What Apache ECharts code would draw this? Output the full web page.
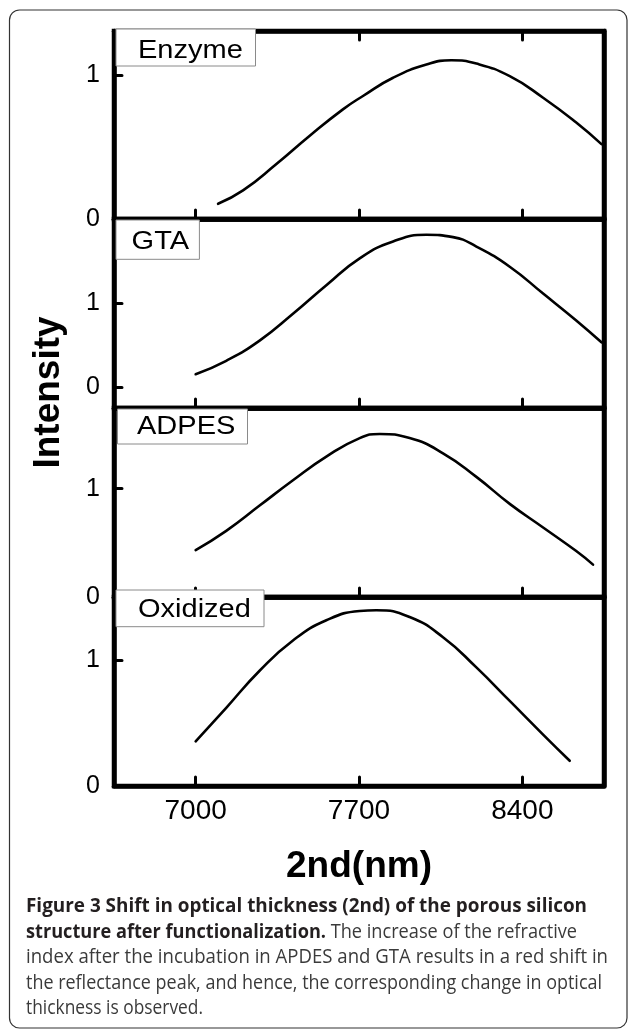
<html>
    <head>
        <meta charset="utf-8">
        <script src="https://cdn.jsdelivr.net/npm/echarts@6.0.0/dist/echarts.min.js"></script>
    </head>
    <body>
        <style>
            html, body, #main {
                width: 100%;
                height: 100%;
                margin: 0;
                background: #fff;
            }
        </style>
        <div id="main"></div>
        <script>

            // panel names, top to bottom
            var panelNames = ['Enzyme', 'GTA', 'ADPES', 'Oxidized'];

            // 2nd (nm) / intensity
            var enzymeX = [7096, 7203, 7346, 7489, 7631, 7717, 7846, 7989, 8096, 8203, 8346, 8489, 8631, 8739];
            var enzymeY = [0.106, 0.199, 0.383, 0.580, 0.764, 0.857, 0.984, 1.076, 1.106, 1.083, 0.995, 0.845, 0.672, 0.522];

            var gtaX = [7000, 7131, 7274, 7417, 7560, 7703, 7846, 7989, 8103, 8203, 8346, 8489, 8631, 8739];
            var gtaY = [0.152, 0.312, 0.552, 0.872, 1.212, 1.532, 1.732, 1.812, 1.784, 1.672, 1.432, 1.112, 0.792, 0.532];

            var adpesX = [7000, 7131, 7274, 7417, 7560, 7703, 7789, 7917, 8060, 8203, 8346, 8489, 8631, 8703];
            var adpesY = [0.433, 0.611, 0.844, 1.078, 1.296, 1.467, 1.505, 1.467, 1.327, 1.109, 0.860, 0.642, 0.424, 0.299];

            var oxidizedX = [7000, 7131, 7274, 7417, 7560, 7703, 7774, 7917, 8060, 8203, 8346, 8489, 8603];
            var oxidizedY = [0.355, 0.621, 0.915, 1.155, 1.315, 1.389, 1.395, 1.341, 1.181, 0.941, 0.675, 0.408, 0.200];

            var xTicks = [7000, 7700, 8400];
            var yTicks = [0, 1];
            var yRanges = [[0, 1.31], [-0.25, 2.0], [0, 1.745], [0, 1.5]];

            var xName = '2nd(nm)';
            var yName = 'Intensity';
            var captionLines = [
                [['b', 'Figure 3 Shift in optical thickness (2nd) of the porous silicon']],
                [['b', 'structure after functionalization.'], ['r', ' The increase of the refractive']],
                [['r', 'index after the incubation in APDES and GTA results in a red shift in']],
                [['r', 'the reflectance peak, and hence, the corresponding change in optical']],
                [['r', 'thickness is observed.']]
            ];

            var seriesX = [enzymeX, gtaX, adpesX, oxidizedX];
            var seriesY = [enzymeY, gtaY, adpesY, oxidizedY];

            // layout (px)
            var panelTops = [31, 219, 408, 597, 786];
            var plotLeft = 114, plotRight = 25;
            var labelBoxes = [
                {x: 116, y: 29, w: 139.5, h: 37, tx: 138, ty: 51.5},
                {x: 116, y: 220, w: 83.4, h: 39.3, tx: 131.6, ty: 242.5},
                {x: 117.5, y: 409, w: 130, h: 35, tx: 137, ty: 427},
                {x: 116, y: 590, w: 148, h: 36.7, tx: 138, ty: 610}
            ];
            var captionLeft = 26;
            var captionRight = [587, 577, 608, 602, 203];
            var captionBase = [913, 938.5, 964, 989.5, 1015];
            var axisFont = '"Liberation Sans", Arial, sans-serif';
            var capFont = '"Open Sans", sans-serif';
            var capSize = 19.5;

            var chart = echarts.init(document.getElementById('main'));

            function pairs(xs, ys) {
                var out = [];
                for (var i = 0; i < xs.length; i++) {
                    out.push([xs[i], ys[i]]);
                }
                return out;
            }

            var frameLine = {show: true, onZero: false, lineStyle: {color: '#000', width: 4.5}};
            var tickStyle = {color: '#000', width: 3, cap: 'round'};

            var grids = [], xAxes = [], yAxes = [], series = [];
            for (var i = 0; i < 4; i++) {
                grids.push({
                    left: plotLeft,
                    right: plotRight,
                    top: panelTops[i],
                    height: panelTops[i + 1] - panelTops[i],
                    show: true,
                    borderColor: '#000',
                    borderWidth: 4.5,
                    backgroundColor: 'transparent'
                });
                var last = i === 3;
                // bottom
                xAxes.push({
                    type: 'value',
                    gridIndex: i,
                    position: 'bottom',
                    min: 6650,
                    max: 8750,
                    axisLine: frameLine,
                    splitLine: {show: false},
                    axisTick: {
                        show: true,
                        inside: true,
                        length: 9,
                        customValues: xTicks,
                        lineStyle: tickStyle
                    },
                    axisLabel: {
                        show: last,
                        customValues: xTicks,
                        formatter: function (v) { return String(v); },
                        margin: 11,
                        fontSize: 28,
                        fontFamily: axisFont,
                        color: '#000'
                    },
                    name: last ? xName : '',
                    nameLocation: 'middle',
                    nameGap: 62,
                    nameTextStyle: {
                        fontSize: 37,
                        fontWeight: 'bold',
                        fontFamily: axisFont,
                        color: '#000'
                    }
                });
                // top, ticks only on the first panel
                xAxes.push({
                    type: 'value',
                    gridIndex: i,
                    position: 'top',
                    min: 6650,
                    max: 8750,
                    axisLine: frameLine,
                    splitLine: {show: false},
                    axisLabel: {show: false},
                    axisTick: {
                        show: i === 0,
                        inside: true,
                        length: 9,
                        customValues: xTicks,
                        lineStyle: tickStyle
                    }
                });
                yAxes.push({
                    type: 'value',
                    gridIndex: i,
                    position: 'left',
                    min: yRanges[i][0],
                    max: yRanges[i][1],
                    axisLine: frameLine,
                    splitLine: {show: false},
                    axisTick: {
                        show: true,
                        inside: true,
                        length: 8,
                        customValues: yTicks,
                        lineStyle: tickStyle
                    },
                    axisLabel: {
                        customValues: yTicks,
                        margin: 14,
                        fontSize: 25,
                        fontFamily: axisFont,
                        color: '#000'
                    }
                });
                yAxes.push({
                    type: 'value',
                    gridIndex: i,
                    position: 'right',
                    min: yRanges[i][0],
                    max: yRanges[i][1],
                    axisLine: frameLine,
                    splitLine: {show: false},
                    axisTick: {show: false},
                    axisLabel: {show: false}
                });
                series.push({
                    name: panelNames[i],
                    type: 'line',
                    xAxisIndex: i * 2,
                    yAxisIndex: i * 2,
                    smooth: 0.5,
                    showSymbol: false,
                    silent: true,
                    lineStyle: {color: '#000', width: 2.6, cap: 'round'},
                    data: pairs(seriesX[i], seriesY[i])
                });
            }

            // caption: one text per line, squeezed to the reference width
            var ctx = document.createElement('canvas').getContext('2d');
            function lineWidth(line) {
                var w = 0;
                line.forEach(function (p) {
                    ctx.font = (p[0] === 'b' ? 'bold ' : '') + capSize + 'px ' + capFont;
                    w += ctx.measureText(p[1]).width;
                });
                return w;
            }

            var graphics = [{
                type: 'rect',
                z: 0,
                shape: {x: 9.5, y: 10, width: 617.5, height: 1018, r: 10},
                style: {fill: 'none', stroke: '#333', lineWidth: 1.2}
            }, {
                type: 'text',
                x: 49,
                y: 392.5,
                rotation: Math.PI / 2,
                z: 50,
                style: {
                    text: yName,
                    font: 'bold 37px ' + axisFont,
                    fill: '#000',
                    align: 'center',
                    verticalAlign: 'middle'
                }
            }];

            labelBoxes.forEach(function (b, k) {
                graphics.push({
                    type: 'rect',
                    z: 100,
                    shape: {x: b.x, y: b.y, width: b.w, height: b.h},
                    style: {fill: '#fff', stroke: '#8a8a8a', lineWidth: 1}
                });
                graphics.push({
                    type: 'text',
                    z: 101,
                    x: b.tx,
                    y: b.ty,
                    scaleX: 1.16,
                    style: {
                        text: panelNames[k],
                        font: '25px ' + axisFont,
                        fill: '#000',
                        align: 'left',
                        verticalAlign: 'middle'
                    }
                });
            });

            captionLines.forEach(function (line, k) {
                var txt = line.map(function (p) {
                    return '{' + p[0] + '|' + p[1] + '}';
                }).join('');
                graphics.push({
                    type: 'text',
                    z: 50,
                    x: captionLeft,
                    y: captionBase[k] - 6.5,
                    scaleX: (captionRight[k] - captionLeft) / lineWidth(line),
                    style: {
                        text: txt,
                        align: 'left',
                        verticalAlign: 'middle',
                        rich: {
                            b: {font: 'bold ' + capSize + 'px ' + capFont, fill: '#231f20'},
                            r: {font: capSize + 'px ' + capFont, fill: '#3a3a3a'}
                        }
                    }
                });
            });

            chart.setOption({
                animation: false,
                grid: grids,
                xAxis: xAxes,
                yAxis: yAxes,
                series: series,
                graphic: graphics
            });

        </script>
    </body>
</html>
